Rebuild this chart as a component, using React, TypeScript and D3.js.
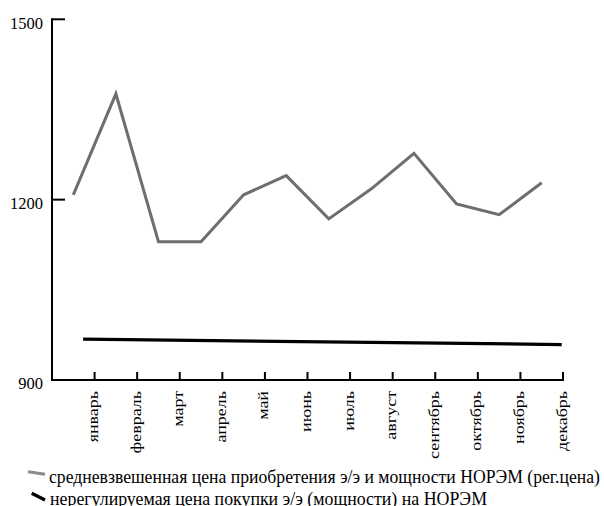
import React from "react";
import * as d3 from "d3";

const months = ["январь","февраль","март","апрель","май","июнь","июль","август","сентябрь","октябрь","ноябрь","декабрь"];
const regPrice = [1208, 1376, 1130, 1130, 1208, 1240, 1168, 1218, 1277, 1193, 1175, 1228];
const freeX = [0.23, 11.47];
const freePrice = [968, 959];
const yTicks = [900, 1200, 1500];
const legendLabels = [
  "средневзвешенная цена приобретения э/э и мощности НОРЭМ (рег.цена)",
  "нерегулируемая цена покупки э/э (мощности) на НОРЭМ",
];

const W = 604, H = 506;
const FONT = "Liberation Serif";

export default function App() {
  const x = d3.scaleLinear().domain([-0.5, 11.5]).range([52, 563]);
  const y = d3.scaleLinear().domain([900, 1500]).range([380, 19.3]);
  const line = d3.line<[number, number]>().x(d => x(d[0])).y(d => y(d[1]));
  const greyPts: [number, number][] = regPrice.map((v, i) => [i, v]);
  const blackPts: [number, number][] = freePrice.map((v, i) => [freeX[i], v]);
  const boundaries = months.map((_, i) => i + 0.5);
  return (
    <svg width={W} height={H} style={{ position: "absolute", left: 0, top: 0 }}>
      <rect width={W} height={H} fill="#fff" />
      <line x1={x(-0.5)} x2={x(-0.5)} y1={y(1500) - 1} y2={y(900) + 1} stroke="#000" strokeWidth={2} />
      {yTicks.map(t => (
        <g key={t}>
          <line x1={x(-0.5)} x2={x(-0.5) + 13} y1={y(t)} y2={y(t)} stroke="#000" strokeWidth={2} />
          <text x={43} y={y(t) + 9.3} textAnchor="end" fontFamily={FONT} fontSize={16.5} fill="#000">{t}</text>
        </g>
      ))}
      <line x1={x(-0.5)} x2={x(11.5) + 1} y1={y(900)} y2={y(900)} stroke="#000" strokeWidth={2} />
      {boundaries.map((b, i) => (
        <g key={i}>
          <line x1={x(b)} x2={x(b)} y1={y(900)} y2={y(900) - 8} stroke="#000" strokeWidth={2} />
          <text transform={`translate(${x(b) + 3.5},391) rotate(-90) scale(1,0.8)`} textAnchor="end" fontFamily={FONT} fontSize={18} fill="#000">{months[i]}</text>
        </g>
      ))}
      <path d={line(greyPts) || ""} fill="none" stroke="#6e6e6e" strokeWidth={3} strokeLinejoin="miter" />
      <path d={line(blackPts) || ""} fill="none" stroke="#000" strokeWidth={3.3} />
      <line x1={28} y1={471.7} x2={45} y2={474.3} stroke="#8a8a8a" strokeWidth={3} />
      <text x={49} y={482.5} textLength={551} lengthAdjust="spacingAndGlyphs" fontFamily={FONT} fontSize={18} fill="#000">{legendLabels[0]}</text>
      <line x1={31.7} y1={493.3} x2={45} y2={500} stroke="#000" strokeWidth={3.3} />
      <text x={50} y={504.5} textLength={437} lengthAdjust="spacingAndGlyphs" fontFamily={FONT} fontSize={18} fill="#000">{legendLabels[1]}</text>
    </svg>
  );
}
